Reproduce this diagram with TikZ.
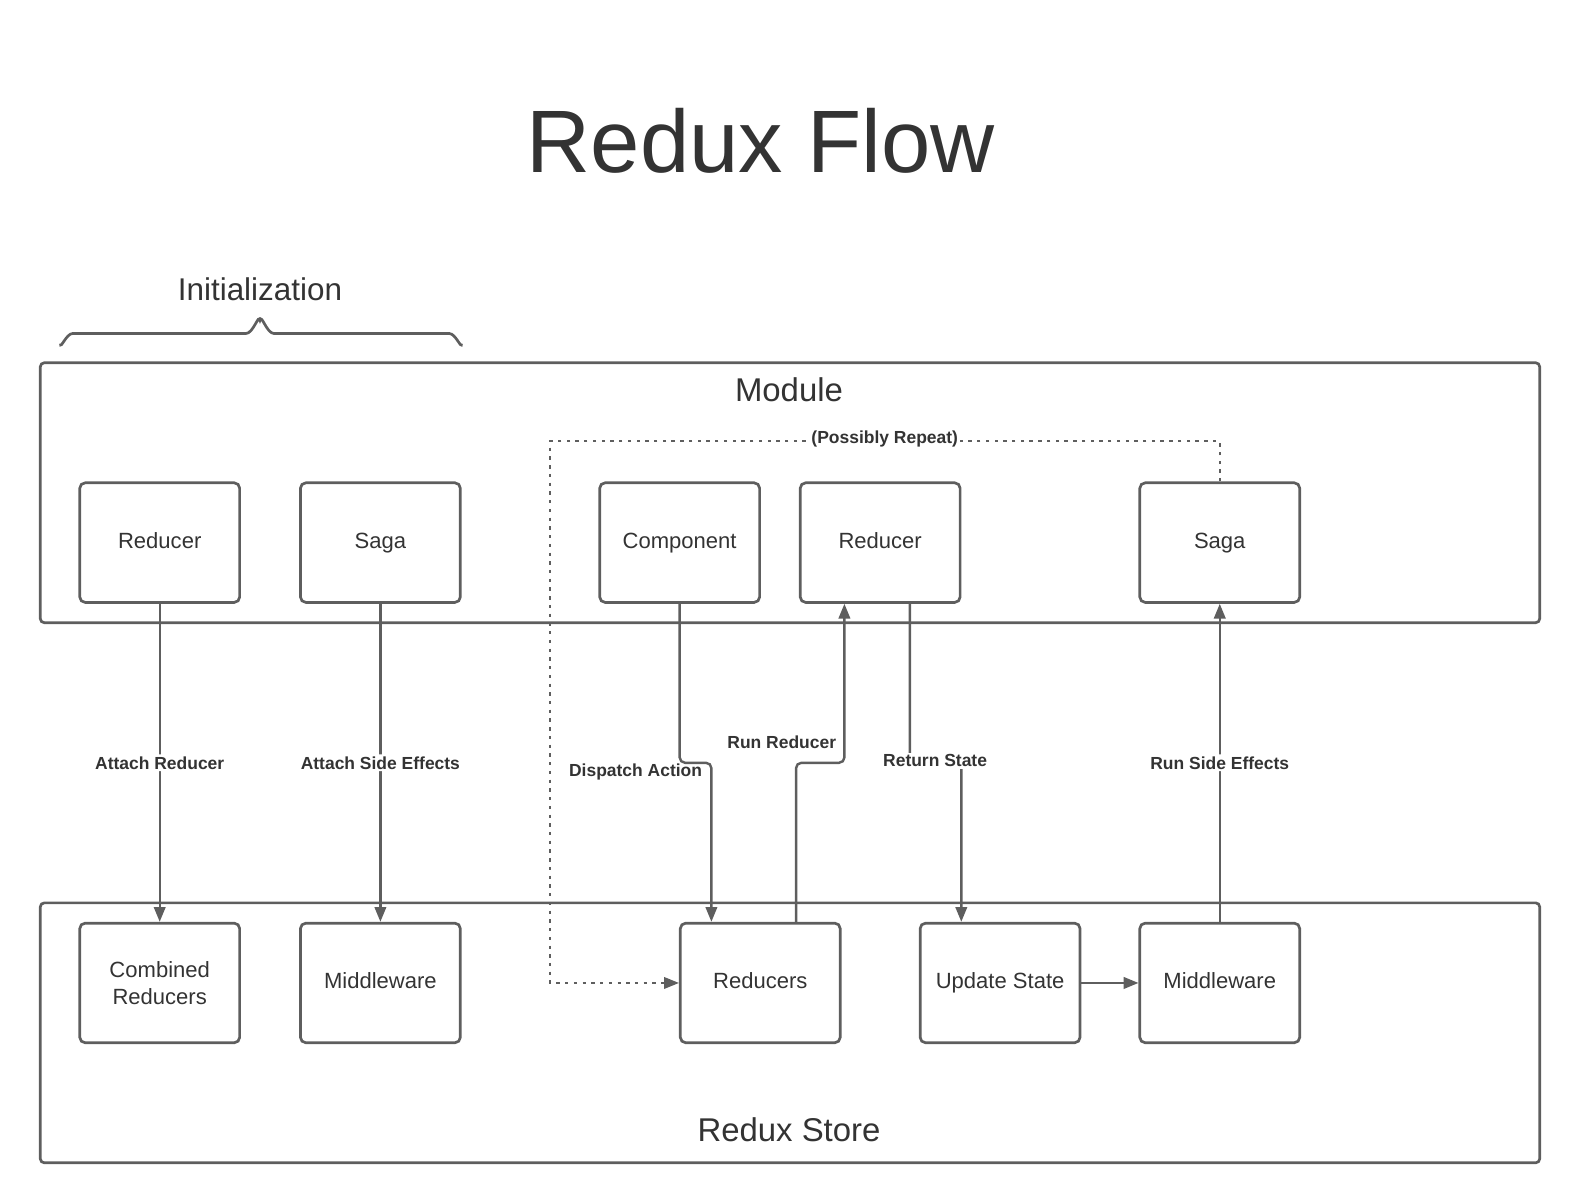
\documentclass[tikz,border=0pt]{standalone}
\usepackage{fontspec}
\setmainfont{Liberation Sans}
\usetikzlibrary{arrows.meta,calc}
\definecolor{ln}{HTML}{5E5E5E}
\definecolor{tx}{HTML}{333333}
\begin{document}
\begin{tikzpicture}[x=0.75pt,y=-0.75pt,
  boxbase/.style={draw=ln,line width=2pt,rounded corners=4pt,minimum width=119pt,minimum height=89pt,inner sep=0pt,text=tx,font=\fontsize{16.4}{20}\selectfont,align=center},
  box/.style={boxbase,text height=11.8pt,text depth=3.4pt},
  bigbox/.style={draw=ln,line width=2pt,rounded corners=3pt,minimum width=1116pt,minimum height=193.5pt,inner sep=0pt},
  conn/.style={draw=ln,line width=1.8pt,rounded corners=4pt},
  arr/.style={conn,-{Triangle[length=11pt,width=8.5pt]}},
  dot/.style={draw=ln,line width=1.4pt,dash pattern=on 2.5pt off 4pt,-{Triangle[length=11pt,width=8.5pt]}},
  lbl/.style={fill=white,inner sep=1.5pt,text=tx,font=\bfseries\fontsize{13}{15}\selectfont},
  head/.style={text=tx,inner sep=0pt}]
\useasboundingbox (0,0) rectangle (1568,1194);
% title
\node[head,font=\fontsize{66}{70}\selectfont] (title) at (755,140) {Redux Flow};
\node[head,font=\fontsize{23.4}{28}\selectfont] (init) at (258,287) {Initialization};
% brace
\draw[ln,line width=2pt] (60,341) to[out=-90,in=180] (72,331) -- (244,331) to[out=0,in=100] (258,318) to[out=80,in=180] (272,331) -- (446,331) to[out=0,in=-90] (458,341);
% big boxes
\node[bigbox] (module) at (784,489) {};
\node[head,font=\fontsize{24.5}{30}\selectfont] (modlbl) at (783,387) {Module};
\node[bigbox] (store) at (784,1025) {};
\node[head,font=\fontsize{24.5}{30}\selectfont] (storelbl) at (783,1121) {Redux Store};
% top boxes
\node[box] (red1) at (158.5,538.5) {Reducer};
\node[box] (saga1) at (377.5,538.5) {Saga};
\node[box] (comp) at (674.5,538.5) {Component};
\node[box] (red2) at (873.5,538.5) {Reducer};
\node[box] (saga2) at (1210.5,538.5) {Saga};
% bottom boxes
\node[boxbase] (comb) at (158.5,975.5) {Combined\\Reducers};
\node[box] (mid1) at (377.5,975.5) {Middleware};
\node[box] (reds) at (754.5,975.5) {Reducers};
\node[box] (upd) at (992.5,975.5) {Update State};
\node[box] (mid2) at (1210.5,975.5) {Middleware};
% straight connectors
\draw[arr] (red1.south) -- node[lbl] (l1) {Attach Reducer} (comb.north);
\draw[arr] (saga1.south) -- node[lbl] (l2) {Attach Side Effects} (mid1.north);
\draw[arr] (mid2.north) -- node[lbl] (l6) {Run Side Effects} (saga2.south);
\draw[arr] (upd.east) -- (mid2.west);
% dispatch action
\coordinate (da) at (706,757);
\draw[arr] (comp.south) |- (da) -- (da |- reds.north);
\node[lbl,fill=none,anchor=east] (l3) at (699,766) {Dispatch Action};
% run reducer
\coordinate (ra) at (790,757);
\coordinate (rb) at (838,757);
\draw[arr] (ra |- reds.north) -- (ra) -- (rb) -- (rb |- red2.south);
\node[lbl,fill=none,anchor=east] (l4) at (832,737) {Run Reducer};
% return state
\coordinate (sa) at (903,757);
\coordinate (sb) at (954,757);
\draw[arr] (sa |- red2.south) -- (sa) -- (sb) -- (sb |- upd.north);
\node[lbl] (l5) at (928,755) {Return State};
% possibly repeat
\coordinate (pa) at (546,438);
\draw[dot] (saga2.north) |- (pa) |- (reds.west);
\node[lbl,inner sep=0.5pt] (l7) at (878,436) {(Possibly Repeat)};
\end{tikzpicture}
\end{document}
